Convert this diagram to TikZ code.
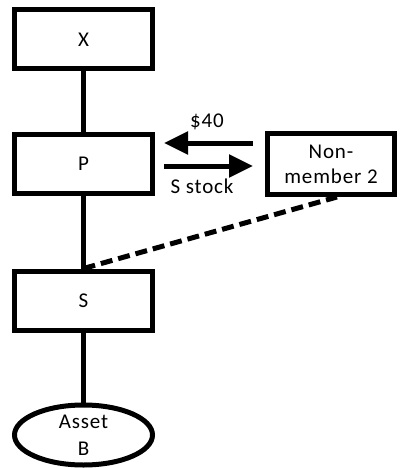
\documentclass[tikz,border=0pt]{standalone}
\usepackage{fontspec}
\setmainfont{Carlito}[LetterSpace=4]
\usetikzlibrary{arrows.meta,shapes.geometric,calc}
\tikzset{
  entity/.style={draw, line width=5pt, rectangle, minimum width=138pt, minimum height=59pt, inner sep=0pt, align=center, font=\fontsize{21}{25}\selectfont},
  asset/.style={draw, line width=5pt, ellipse, minimum width=138pt, minimum height=60pt, inner sep=0pt, align=center, font=\fontsize{21}{27}\selectfont},
  link/.style={line width=5pt},
  transfer/.style={line width=5pt, -{Triangle[length=24pt,width=22pt]}},
  label/.style={font=\fontsize{21}{22}\selectfont, inner sep=0pt}
}
\begin{document}
\begin{tikzpicture}[x=1pt,y=1pt]
  \useasboundingbox (0,0) rectangle (399,-468);
  % ownership chain
  \node[entity] (X) at (83.5,-39.5) {X};
  \node[entity] (P) at (83.5,-164) {P};
  \node[entity] (S) at (83.5,-300.5) {S};
  \node[asset] (B) at (83.5,-435) {Asset\\B};
  \node[entity, minimum width=127pt, minimum height=61pt] (N) at (331,-164) {Non-\\member 2};
  \draw[link] (X) -- (P);
  \draw[link] (P) -- (S);
  \draw[link] (S) -- (B);
  % exchange between P and the non-member
  \draw[transfer] ([shift={(-12pt,21pt)}]N.west) -- ([shift={(9pt,21pt)}]P.east);
  \draw[transfer] ([shift={(9pt,-2pt)}]P.east) -- ([shift={(-12pt,-2pt)}]N.west);
  \node[label] (cash) at (207,-122) {\$40};
  \node[label] (stock) at (202,-186) {S stock};
  % dashed link from S to the non-member
  \draw[link, dash pattern=on 12pt off 6pt] (S.north) -- ([xshift=6pt]N.south);
\end{tikzpicture}
\end{document}
